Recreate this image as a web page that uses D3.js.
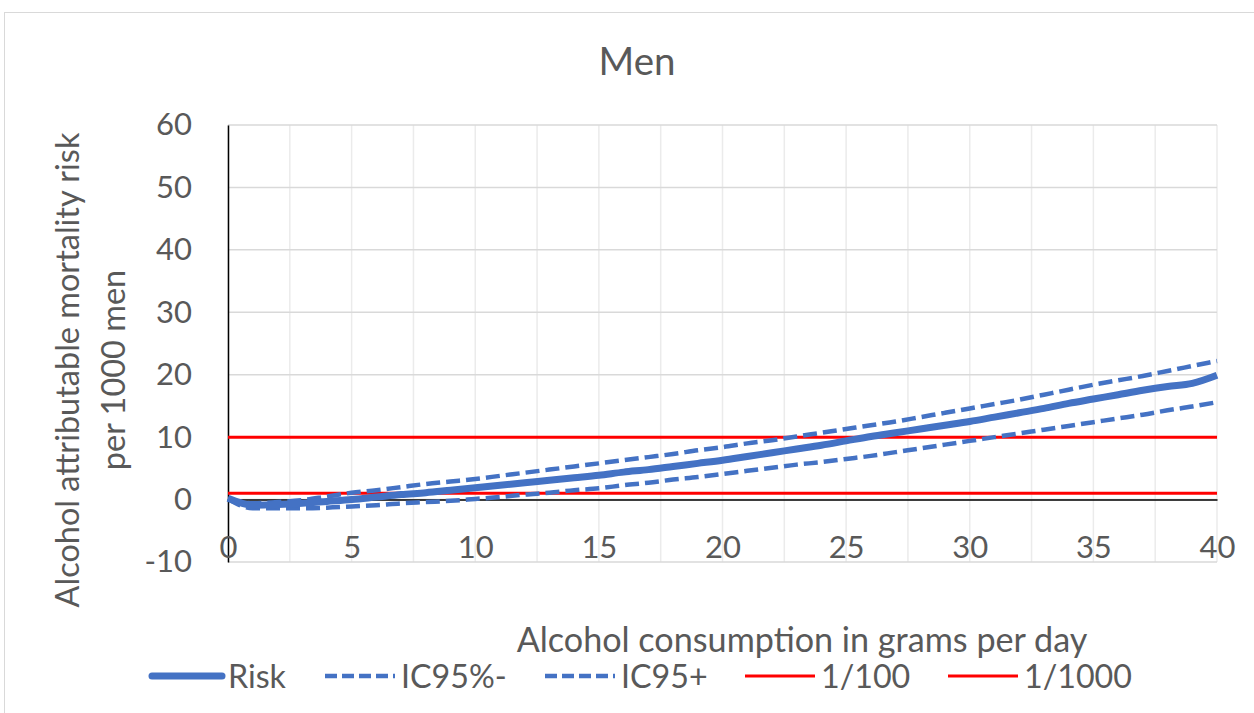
<!DOCTYPE html>
<html>
<head>
<meta charset="utf-8">
<script src="https://cdn.jsdelivr.net/npm/d3@7"></script>
<style>
  body { margin: 0; background: #fff; }
  svg { display: block; }
  text { font-family: Lato, "Open Sans", sans-serif; fill: #595959; }
</style>
</head>
<body>
<div class="chart"></div>
<script>
// grams per day
var grams = d3.range(0, 41);

// values, per 1000 men
var risk = [0.2, -0.9, -0.8, -0.6, -0.3, 0.0, 0.4, 0.8, 1.1, 1.5,
    1.9, 2.3, 2.7, 3.1, 3.5, 3.9, 4.4, 4.8, 5.3, 5.8,
    6.3, 6.9, 7.5, 8.1, 8.7, 9.4, 10.1, 10.7, 11.3, 11.9,
    12.5, 13.2, 13.9, 14.6, 15.4, 16.1, 16.8, 17.5, 18.1, 18.6, 19.9];
var icLow = [0.1, -1.4, -1.4, -1.4, -1.3, -1.1, -0.9, -0.6, -0.4, -0.2,
    0.1, 0.4, 0.8, 1.1, 1.5, 1.8, 2.3, 2.7, 3.2, 3.6,
    4.1, 4.6, 5.1, 5.6, 6.0, 6.5, 7.0, 7.6, 8.2, 8.8,
    9.4, 10.0, 10.6, 11.2, 11.8, 12.4, 13.0, 13.6, 14.3, 14.9, 15.6];
var icHigh = [0.2, -0.6, -0.4, -0.1, 0.5, 1.1, 1.5, 2.0, 2.5, 2.9,
    3.3, 3.8, 4.3, 4.8, 5.3, 5.8, 6.3, 6.8, 7.3, 7.9,
    8.4, 9.0, 9.5, 10.1, 10.7, 11.3, 11.9, 12.5, 13.2, 13.9,
    14.6, 15.3, 16.0, 16.8, 17.6, 18.4, 19.1, 19.8, 20.6, 21.4, 22.2];
var thresholds = [10, 1];   // 1/100 and 1/1000 per 1000

var xTicks = [0, 5, 10, 15, 20, 25, 30, 35, 40];
var yTicks = [-10, 0, 10, 20, 30, 40, 50, 60];
var legendNames = ["Risk", "IC95%-", "IC95+", "1/100", "1/1000"];

var W = 1254, H = 713;
var margin = { top: 125, right: 37, bottom: 151, left: 228 };
var blue = "#4472C4", red = "#FF0000";

var svg = d3.select(".chart").append("svg")
    .attr("width", W)
    .attr("height", H);

// scale a text's font so it spans about the same width as in the picture
function fitWidth(sel, target) {
    var w = sel.node().getComputedTextLength();
    var fs = parseFloat(sel.style("font-size"));
    return fs * target / w;
}

// outer chart frame
svg.append("rect")
    .attr("x", 4.5).attr("y", 12.5)
    .attr("width", W + 20).attr("height", H + 20)
    .attr("fill", "none")
    .attr("stroke", "#D9D9D9");

var x = d3.scaleLinear().domain([0, 40]).range([margin.left, W - margin.right]);
var y = d3.scaleLinear().domain([-10, 60]).range([H - margin.bottom, margin.top]);

// vertical gridlines every 2.5
svg.append("g")
    .selectAll("line")
    .data(d3.range(0, 40.1, 2.5))
    .enter().append("line")
    .attr("x1", function (d) { return x(d); })
    .attr("x2", function (d) { return x(d); })
    .attr("y1", y(60)).attr("y2", y(-10))
    .attr("stroke", "#EBEBEB")
    .attr("stroke-width", 1.5);

// horizontal gridlines
svg.append("g")
    .selectAll("line")
    .data(yTicks)
    .enter().append("line")
    .attr("x1", x(0)).attr("x2", x(40))
    .attr("y1", function (d) { return y(d); })
    .attr("y2", function (d) { return y(d); })
    .attr("stroke", "#D9D9D9")
    .attr("stroke-width", 1.5);

// y axis
var yAxis = d3.axisLeft(y).tickValues(yTicks).tickSize(0).tickPadding(36)
    .tickFormat(function (d) { return String(d); });
var gy = svg.append("g")
    .attr("transform", "translate(" + margin.left + ",0)")
    .call(yAxis);
gy.select(".domain").attr("stroke", "#000").attr("stroke-width", 1.5);
gy.selectAll("text")
    .style("font-size", "31px")
    .attr("fill", "#595959");

// x axis drawn at 0, labels just above the bottom
var xAxis = d3.axisBottom(x).tickValues(xTicks).tickSize(0);
var gx = svg.append("g")
    .attr("transform", "translate(0," + y(0) + ")")
    .call(xAxis);
gx.select(".domain").attr("stroke", "#000").attr("stroke-width", 1.5);
gx.selectAll("text")
    .attr("y", 0)
    .attr("dy", 0)
    .attr("transform", "translate(0," + (y(-10) - y(0) - 4) + ")")
    .style("font-size", "31px")
    .attr("fill", "#595959");

// threshold lines
svg.append("g")
    .selectAll("line")
    .data(thresholds)
    .enter().append("line")
    .attr("x1", x(0)).attr("x2", x(40))
    .attr("y1", function (d) { return y(d); })
    .attr("y2", function (d) { return y(d); })
    .attr("stroke", red)
    .attr("stroke-width", 3);

var line = d3.line()
    .x(function (d, i) { return x(grams[i]); })
    .y(function (d) { return y(d); })
    .curve(d3.curveMonotoneX);

svg.append("path")
    .datum(icLow)
    .attr("d", line)
    .attr("fill", "none")
    .attr("stroke", blue)
    .attr("stroke-width", 4.5)
    .attr("stroke-dasharray", "14,6");

svg.append("path")
    .datum(icHigh)
    .attr("d", line)
    .attr("fill", "none")
    .attr("stroke", blue)
    .attr("stroke-width", 4.5)
    .attr("stroke-dasharray", "14,6");

svg.append("path")
    .datum(risk)
    .attr("d", line)
    .attr("fill", "none")
    .attr("stroke", blue)
    .attr("stroke-width", 7);

// title
var title = svg.append("text")
    .attr("x", 637)
    .attr("y", 75)
    .attr("text-anchor", "middle")
    .style("font-size", "32px")
    .text("Men");
title.style("font-size", fitWidth(title, 77) + "px");

// axis titles
var xTitle = svg.append("text")
    .attr("x", 802)
    .attr("y", 652)
    .attr("text-anchor", "middle")
    .style("font-size", "29px")
    .text("Alcohol consumption in grams per day");
xTitle.style("font-size", fitWidth(xTitle, 571) + "px");

var yTitle = svg.append("text")
    .attr("transform", "translate(79,370) rotate(-90)")
    .attr("text-anchor", "middle")
    .style("font-size", "29px");
var yLine1 = yTitle.append("tspan").attr("x", 0).attr("y", 0).text("Alcohol attributable mortality risk");
yTitle.append("tspan").attr("x", 0).attr("y", 46).text("per 1000 men");
var w1 = yLine1.node().getComputedTextLength();
yTitle.style("font-size", 29 * 475 / w1 + "px");

// legend
var legendX = [152, 325, 545, 745, 948];
var legendStyle = [
    { color: blue, width: 7, dash: null },
    { color: blue, width: 4.5, dash: "12,5" },
    { color: blue, width: 4.5, dash: "12,5" },
    { color: red, width: 3, dash: null },
    { color: red, width: 3, dash: null }
];
var lg = svg.append("g").selectAll("g")
    .data(legendNames)
    .enter().append("g")
    .attr("transform", function (d, i) { return "translate(" + legendX[i] + ",676)"; });

lg.append("line")
    .attr("x1", 0).attr("x2", 70)
    .attr("stroke", function (d, i) { return legendStyle[i].color; })
    .attr("stroke-width", function (d, i) { return legendStyle[i].width; })
    .attr("stroke-dasharray", function (d, i) { return legendStyle[i].dash; })
    .attr("stroke-linecap", function (d, i) { return i === 0 ? "round" : "butt"; });

var lt = lg.append("text")
    .attr("x", 76)
    .attr("y", 12)
    .style("font-size", "30px")
    .text(function (d) { return d; });
var legendFont = fitWidth(lt.filter(function (d) { return d === "1/1000"; }), 108);
lt.style("font-size", legendFont + "px");
</script>
</body>
</html>
